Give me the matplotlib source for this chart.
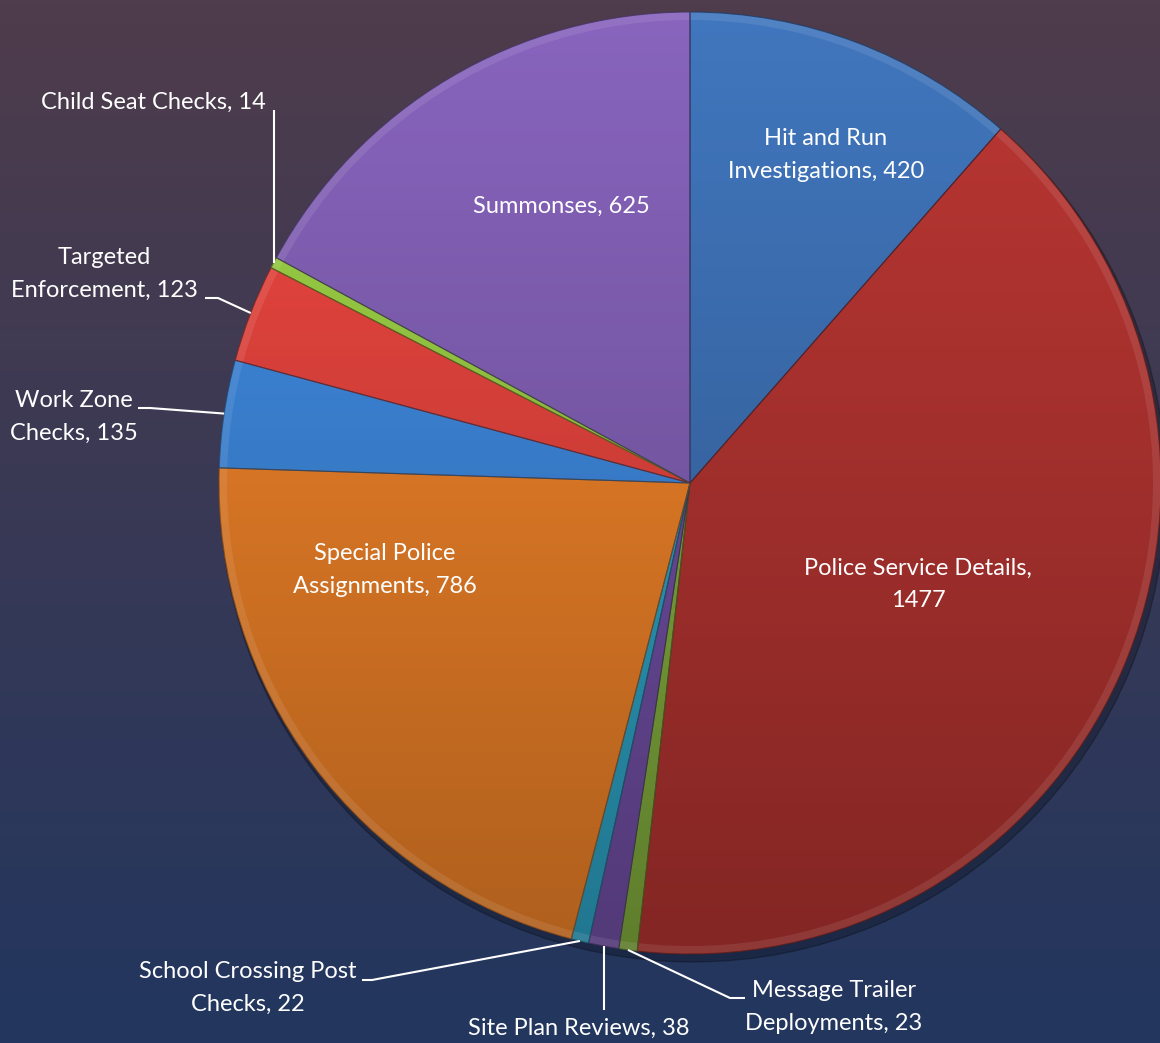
import numpy as np
import matplotlib
matplotlib.use("Agg")
import matplotlib.pyplot as plt
from matplotlib.colors import to_rgb
from matplotlib.patches import Wedge

# data (clockwise from 12 o'clock)
categories = [
    "Hit and Run\nInvestigations",
    "Police Service Details",
    "Message Trailer\nDeployments",
    "Site Plan Reviews",
    "School Crossing Post\nChecks",
    "Special Police\nAssignments",
    "Work Zone\nChecks",
    "Targeted\nEnforcement",
    "Child Seat Checks",
    "Summonses",
]
values = [420, 1477, 23, 38, 22, 786, 135, 123, 14, 625]
colors = ["#3a6aaa", "#a8312e", "#7aa23a", "#6a4a9a", "#2b98b8",
          "#e07a26", "#3a80d0", "#d8403a", "#8fc040", "#7a5aaa"]

W, H = 1160, 1043
CX, CY, R = 690, 483, 471

fig = plt.figure(figsize=(W / 100, H / 100), dpi=100)
ax = fig.add_axes([0, 0, 1, 1])

# background gradient
top = np.array(to_rgb("#4f3c4c"))
bot = np.array(to_rgb("#22365f"))
t = np.linspace(0, 1, 256)[:, None, None]
bg = np.repeat(top * (1 - t) + bot * t, 2, axis=1)
ax.imshow(bg, extent=(0, W, H, 0), aspect="auto", zorder=0)

# pie (y axis inverted -> startangle -90 is 12 o'clock, ccw draws clockwise)
wedges, _ = ax.pie(values, colors=colors, startangle=-90, counterclock=True,
                   center=(CX, CY), radius=R, frame=True,
                   wedgeprops=dict(linewidth=0, zorder=2))
ax.set_xlim(0, W)
ax.set_ylim(H, 0)
ax.set_aspect("auto")
ax.axis("off")

# soft shadow
ax.add_patch(Wedge((CX + 3, CY + 6), R + 2, 0, 360, color="black", alpha=0.25, zorder=1))

tt = np.linspace(0, 1, 200)[:, None, None]
for w, c in zip(wedges, colors):
    base = np.array(to_rgb(c))
    hi = np.clip(base * 1.12, 0, 1)
    lo = base * 0.78
    img = np.repeat(hi * (1 - tt) + lo * tt, 2, axis=1)
    im = ax.imshow(img, extent=(CX - R, CX + R, CY + R, CY - R), aspect="auto", zorder=3)
    im.set_clip_path(w)
    # bevel rim
    ax.add_patch(Wedge((CX, CY), R, w.theta1, w.theta2, width=8,
                       facecolor="white", alpha=0.09, linewidth=0, zorder=4))
    ax.add_patch(Wedge((CX, CY), R, w.theta1, w.theta2, facecolor="none",
                       edgecolor=tuple(base * 0.55), linewidth=0.8, alpha=0.8, zorder=5))

font = dict(family=["Lato", "DejaVu Sans"], fontsize=17, color="white")

# inside labels
inside = {
    0: (826, 155),
    1: (918, 584),
    5: (385, 570),
    9: (561, 206),
}
for i, (x, y) in inside.items():
    sep = ",\n" if i == 1 else ", "
    txt = "%s%s%d" % (categories[i], sep, values[i])
    ax.text(x, y, txt, ha="center", va="center", multialignment="center",
            linespacing=1.65, zorder=6, **font)

# outside labels: text position, alignment, leader start points
outside = {
    8: ((266, 102), "right", [("anchor", 110)]),
    7: ((104, 274), "center", [(205, 298), (218, 298)]),
    6: ((74, 417), "center", [(138, 408), (150, 408)]),
    4: ((248, 988), "center", [(362, 980), (372, 980)]),
    3: ((579, 1028), "center", [("anchor", 1010)]),
    2: ((834, 1007), "center", [(745, 998), (730, 998)]),
}
for i, ((x, y), ha, pts) in outside.items():
    w = wedges[i]
    mid = np.deg2rad((w.theta1 + w.theta2) / 2)
    px = CX + R * np.cos(mid)
    py = CY + R * np.sin(mid)
    txt = "%s, %d" % (categories[i], values[i])
    ax.text(x, y, txt, ha=ha, va="center", multialignment="center",
            linespacing=1.65, zorder=6, **font)
    xs = [px if isinstance(p[0], str) else p[0] for p in pts] + [px]
    ys = [p[1] for p in pts] + [py]
    ax.plot(xs, ys, color="white", linewidth=1.5, zorder=6, solid_capstyle="butt")

fig.savefig("out.png", dpi=100)
